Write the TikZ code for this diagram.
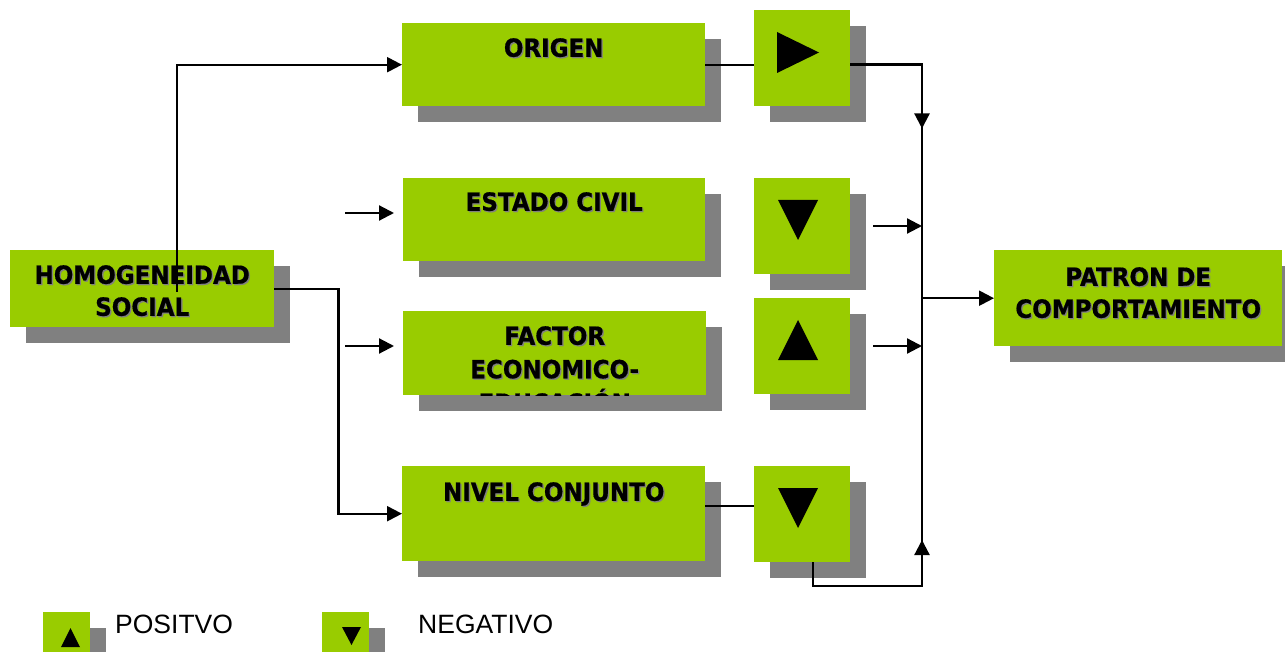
\documentclass[tikz,border=0pt]{standalone}
\usepackage{fontspec}
\setmainfont{DejaVu Sans}[BoldFeatures={FakeStretch=0.92,FakeBold=0.6}]
\newfontfamily\legendfont{Liberation Sans}
\usetikzlibrary{arrows.meta,shadows}
\definecolor{boxgreen}{HTML}{99CC00}
\definecolor{shadowgray}{HTML}{808080}
\newcommand\shtxt[1]{\rlap{\kern1.3pt\raisebox{-1.3pt}{\textcolor{shadowgray}{#1}}}#1}
\tikzset{
  box/.style={fill=boxgreen, inner sep=0pt, anchor=north west,
    drop shadow={shadow xshift=16pt, shadow yshift=-16pt, fill=shadowgray, opacity=1}},
  boxtext/.style={font=\bfseries\fontsize{25}{32}\selectfont, align=center, anchor=north, inner sep=0pt},
  legtext/.style={font=\legendfont\fontsize{26.5}{31}\selectfont, anchor=base west, inner sep=0pt},
  flow/.style={line width=2.2pt, -{Triangle[length=15pt,width=15pt]}},
  wire/.style={line width=2.2pt},
}
\begin{document}
\begin{tikzpicture}[x=1pt,y=-1pt]
\useasboundingbox (0,0) rectangle (1285,652);
% boxes
\node[box, minimum width=264pt, minimum height=77pt] (homog) at (10,250) {};
\node[box, minimum width=303pt, minimum height=83pt] (origen) at (402,23) {};
\node[box, minimum width=302pt, minimum height=83pt] (estado) at (403,178) {};
\node[box, minimum width=303pt, minimum height=84pt] (factor) at (403,311) {};
\node[box, minimum width=303pt, minimum height=95pt] (nivel) at (402,466) {};
\node[box, minimum width=288pt, minimum height=96pt] (patron) at (994,250) {};
% sign boxes
\node[box, minimum size=96pt] (sgnorigen) at (754,10) {};
\node[box, minimum size=96pt] (sgnestado) at (754,178) {};
\node[box, minimum size=96pt] (sgnfactor) at (754,298) {};
\node[box, minimum size=96pt] (sgnnivel) at (754,466) {};
% texts
\node[boxtext] (homog-t) at ([yshift=-15pt]homog.north) {\shtxt{HOMOGENEIDAD}\\\shtxt{SOCIAL}};
\node[boxtext] (origen-t) at ([yshift=-15pt]origen.north) {\shtxt{ORIGEN}};
\node[boxtext] (estado-t) at ([yshift=-14pt]estado.north) {\shtxt{ESTADO CIVIL}};
\begin{scope}
\clip (factor.north west) rectangle (factor.south east);
\node[boxtext, font=\bfseries\fontsize{25}{33.5}\selectfont] (factor-t) at ([yshift=-15pt]factor.north) {\shtxt{FACTOR}\\\shtxt{ECONOMICO-}\\\shtxt{EDUCACIÓN}};
\end{scope}
\node[boxtext] (nivel-t) at ([yshift=-16pt]nivel.north) {\shtxt{NIVEL CONJUNTO}};
\node[boxtext] (patron-t) at ([yshift=-17pt]patron.north) {\shtxt{PATRON DE}\\\shtxt{COMPORTAMIENTO}};
% signs
\fill (777,32) -- (777,73) -- (819,52.5) -- cycle;
\fill (778,200) -- (818,200) -- (798,240) -- cycle;
\fill (778,360) -- (818,360) -- (798,320) -- cycle;
\fill (778,488) -- (818,488) -- (798,528) -- cycle;
% connectors
\coordinate (homog-up) at (177,292);
\coordinate (estado-in) at (345,213);
\coordinate (estado-tip) at (394,213);
\coordinate (factor-in) at (345,346);
\coordinate (factor-tip) at (394,346);
\coordinate (estado-out) at (873,226);
\coordinate (factor-out) at (873,346);
\coordinate (bus-top) at (922,64.5);
\coordinate (bus-bot) at (922,586);
\draw[flow] (homog-up) |- (origen.west);
\draw[flow] (homog.east) -- ++(64,0) |- (nivel.west);
\draw[flow] (estado-in) -- (estado-tip);
\draw[flow] (factor-in) -- (factor-tip);
\draw[wire] (origen.east) -- (sgnorigen.west |- origen.east);
\draw[wire] ([yshift=7.5pt]nivel.east) -- ([yshift=7.5pt]nivel.east -| sgnnivel.west);
\draw[wire] (bus-top) -- (bus-bot);
\draw[flow] (sgnorigen.east |- bus-top) -- (bus-top) -- ++(0,64);
\draw[flow] (estado-out) -- (estado-out -| bus-top);
\draw[flow] (factor-out) -- (factor-out -| bus-top);
\draw[flow] (bus-top |- patron.west) -- (patron.west);
\draw[flow] ([xshift=11pt]sgnnivel.south) |- (bus-bot) -- ++(0,-46);
% legend
\node[box, minimum size=47pt] (legpos) at (43,612) {};
\node[box, minimum size=47pt] (legneg) at (322,612) {};
\fill (61,647) -- (80,647) -- (70.5,628) -- cycle;
\fill (342,627) -- (361,627) -- (351.5,645) -- cycle;
\node[legtext] (legpos-t) at (115,633) {POSITVO};
\node[legtext] (legneg-t) at (418,633) {NEGATIVO};
\end{tikzpicture}
\end{document}
